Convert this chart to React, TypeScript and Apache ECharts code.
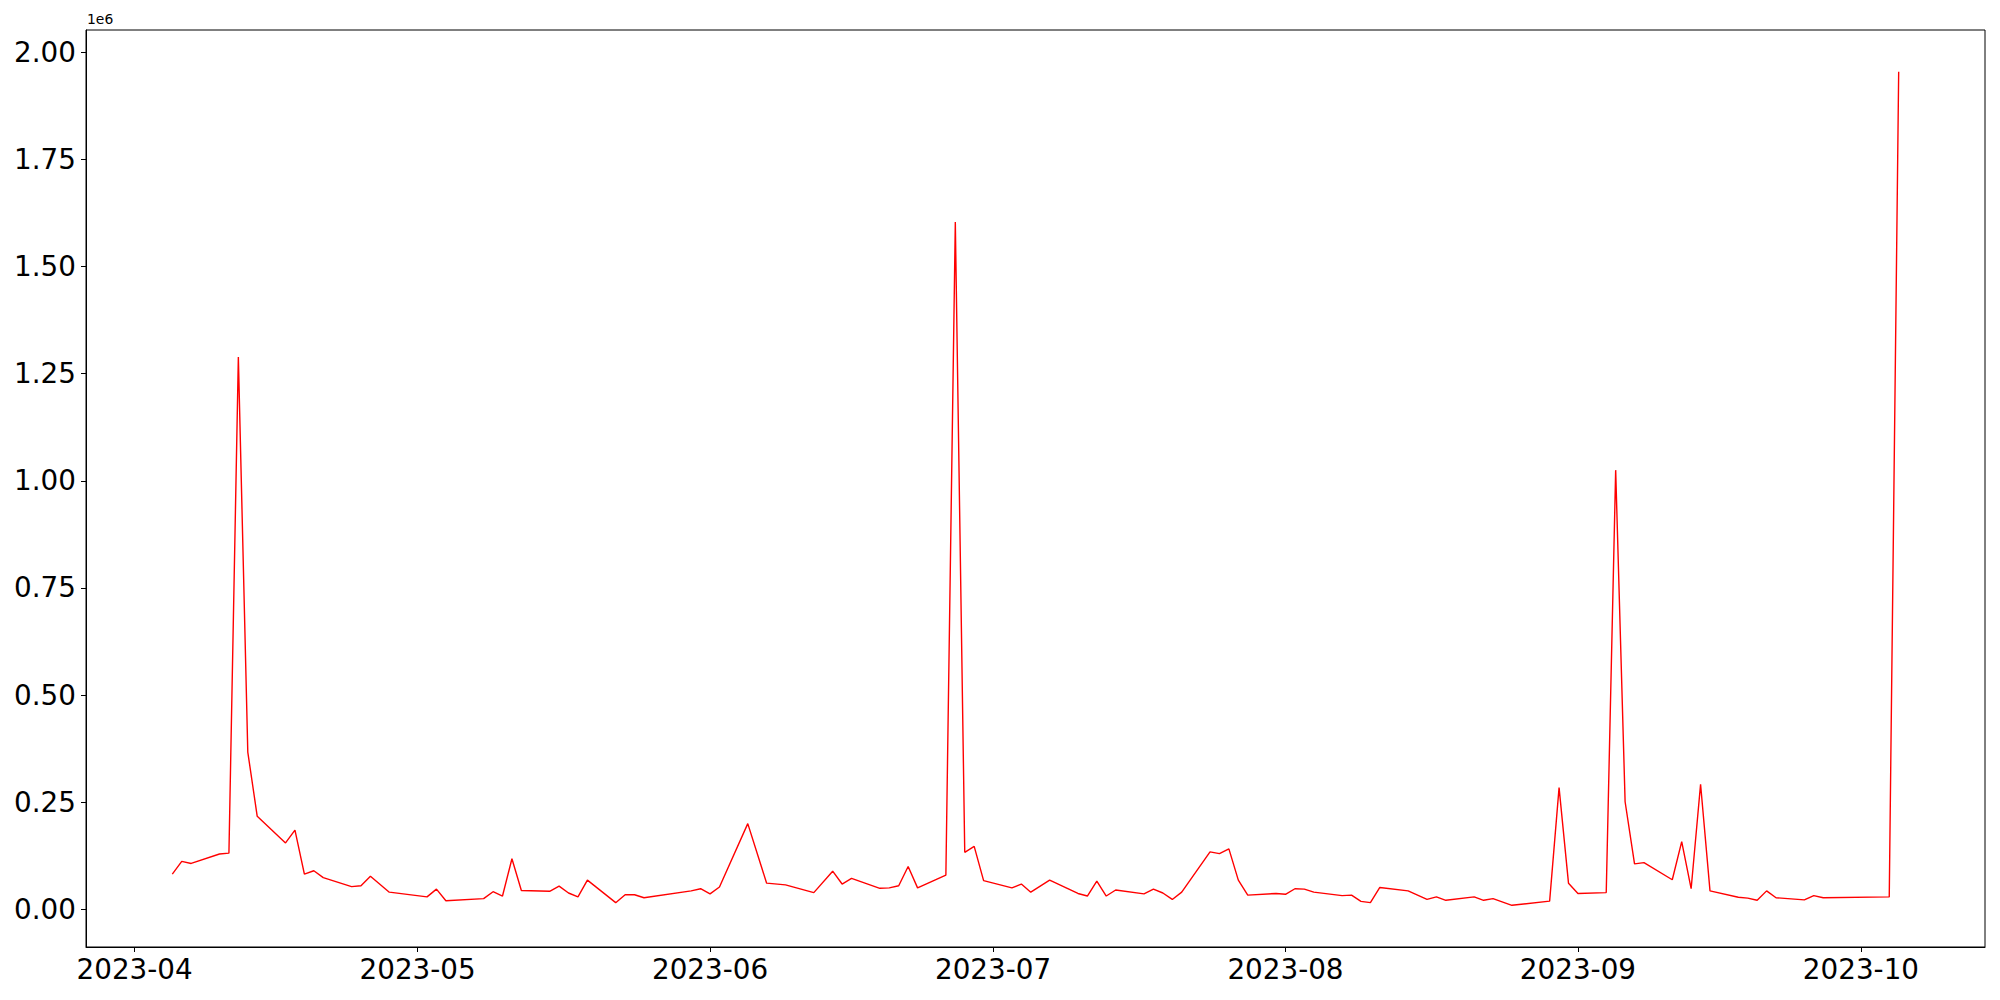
import React, { useEffect, useRef } from "react";
import * as echarts from "echarts";

const dates: string[] = [
  "2023-04-05", "2023-04-06", "2023-04-07", "2023-04-10", "2023-04-11", "2023-04-12", "2023-04-13", "2023-04-14",
  "2023-04-17", "2023-04-18", "2023-04-19", "2023-04-20", "2023-04-21", "2023-04-24", "2023-04-25", "2023-04-26",
  "2023-04-28", "2023-05-02", "2023-05-03", "2023-05-04", "2023-05-08", "2023-05-09", "2023-05-10", "2023-05-11",
  "2023-05-12", "2023-05-15", "2023-05-16", "2023-05-17", "2023-05-18", "2023-05-19", "2023-05-22", "2023-05-23",
  "2023-05-24", "2023-05-25", "2023-05-30", "2023-05-31", "2023-06-01", "2023-06-02", "2023-06-05", "2023-06-07",
  "2023-06-09", "2023-06-12", "2023-06-14", "2023-06-15", "2023-06-16", "2023-06-19", "2023-06-20", "2023-06-21",
  "2023-06-22", "2023-06-23", "2023-06-26", "2023-06-27", "2023-06-28", "2023-06-29", "2023-06-30", "2023-07-03",
  "2023-07-04", "2023-07-05", "2023-07-07", "2023-07-10", "2023-07-11", "2023-07-12", "2023-07-13", "2023-07-14",
  "2023-07-17", "2023-07-18", "2023-07-19", "2023-07-20", "2023-07-21", "2023-07-24", "2023-07-25", "2023-07-26",
  "2023-07-27", "2023-07-28", "2023-07-31", "2023-08-01", "2023-08-02", "2023-08-03", "2023-08-04", "2023-08-07",
  "2023-08-08", "2023-08-09", "2023-08-10", "2023-08-11", "2023-08-14", "2023-08-16", "2023-08-17", "2023-08-18",
  "2023-08-21", "2023-08-22", "2023-08-23", "2023-08-25", "2023-08-29", "2023-08-30", "2023-08-31", "2023-09-01",
  "2023-09-04", "2023-09-05", "2023-09-06", "2023-09-07", "2023-09-08", "2023-09-11", "2023-09-12", "2023-09-13",
  "2023-09-14", "2023-09-15", "2023-09-18", "2023-09-19", "2023-09-20", "2023-09-21", "2023-09-22", "2023-09-25",
  "2023-09-26", "2023-09-27", "2023-10-04", "2023-10-05",
];

const values: number[] = [
  82000, 112000, 107000, 129000, 131000, 1289000, 367000, 217000,
  155000, 185000, 82000, 90000, 74000, 53000, 55000, 77000,
  40000, 29000, 47000, 20000, 25000, 41000, 31000, 118000,
  44000, 42000, 54000, 38000, 29000, 68000, 15500, 34000,
  34000, 27000, 43000, 48000, 36000, 52000, 200000, 61000,
  57000, 39000, 89000, 59000, 72000, 49000, 50000, 55000,
  100000, 50000, 80000, 1604000, 133000, 147000, 67000, 50000,
  59000, 40000, 68000, 37000, 31000, 66000, 31000, 45000,
  36000, 47000, 38000, 23000, 40000, 134000, 130000, 141000,
  68000, 33000, 37000, 35000, 48000, 47000, 40000, 32000,
  33000, 18600, 15500, 51000, 43000, 23000, 29000, 21000,
  29000, 21000, 25000, 9300, 19000, 284000, 61000, 37000,
  39000, 1025000, 251000, 106000, 109000, 69000, 158000, 48000,
  292000, 43000, 28000, 26000, 21000, 43000, 27000, 22000,
  32000, 27000, 29000, 1955000,
];

const xTickLabels: string[] = ["2023-04", "2023-05", "2023-06", "2023-07", "2023-08", "2023-09", "2023-10"];
const yTickValues: number[] = [0, 250000, 500000, 750000, 1000000, 1250000, 1500000, 1750000, 2000000];

const toUTC = (s: string) => {
  const p = s.split("-").map(Number);
  return Date.UTC(p[0], p[1] - 1, p[2] || 1);
};

export default function App() {
  const ref = useRef<HTMLDivElement>(null);
  useEffect(() => {
    document.body.style.margin = "0";
    const chart = echarts.init(ref.current!, null, { renderer: "svg" });
    const xs = dates.map(toUTC);
    const xMinD = Math.min(...xs);
    const xMaxD = Math.max(...xs);
    const xPad = (xMaxD - xMinD) * 0.05;
    const yMinD = Math.min(...values);
    const yMaxD = Math.max(...values);
    const yPad = (yMaxD - yMinD) * 0.05;
    const xTicks = xTickLabels.map(toUTC);
    const font = "DejaVu Sans";
    chart.setOption({
      animation: false,
      backgroundColor: "#ffffff",
      grid: {
        left: 86,
        right: 15,
        top: 30,
        bottom: 53,
        show: true,
        borderColor: "#000000",
        borderWidth: 1,
        backgroundColor: "transparent",
      },
      graphic: [
        {
          type: "text",
          left: 87,
          top: 12,
          style: { text: "1e6", fontSize: 13.9, fontFamily: font, fill: "#000000" },
        },
      ],
      xAxis: {
        type: "value",
        min: xMinD - xPad,
        max: xMaxD + xPad,
        axisLine: { show: true, onZero: false, lineStyle: { color: "#000000", width: 1 } },
        axisTick: { show: true, length: 5, lineStyle: { color: "#000000", width: 1 }, customValues: xTicks },
        axisLabel: {
          show: true,
          customValues: xTicks,
          margin: 8,
          fontSize: 27.8,
          fontFamily: font,
          color: "#000000",
          formatter: (v: number) => {
            const d = new Date(v);
            const m = d.getUTCMonth() + 1;
            return d.getUTCFullYear() + "-" + (m < 10 ? "0" + m : "" + m);
          },
        },
        splitLine: { show: false },
      },
      yAxis: {
        type: "value",
        min: yMinD - yPad,
        max: yMaxD + yPad,
        axisLine: { show: true, onZero: false, lineStyle: { color: "#000000", width: 1 } },
        axisTick: { show: true, length: 5, lineStyle: { color: "#000000", width: 1 }, customValues: yTickValues },
        axisLabel: {
          show: true,
          customValues: yTickValues,
          margin: 10,
          fontSize: 27.8,
          fontFamily: font,
          color: "#000000",
          formatter: (v: number) => (v / 1e6).toFixed(2),
        },
        splitLine: { show: false },
      },
      series: [
        {
          type: "line",
          data: xs.map((x, i) => [x, values[i]]),
          showSymbol: false,
          symbol: "none",
          silent: true,
          lineStyle: { color: "#ff0000", width: 1.4 },
        },
      ],
    });
    return () => chart.dispose();
  }, []);
  return <div ref={ref} style={{ width: 2000, height: 1000 }} />;
}
